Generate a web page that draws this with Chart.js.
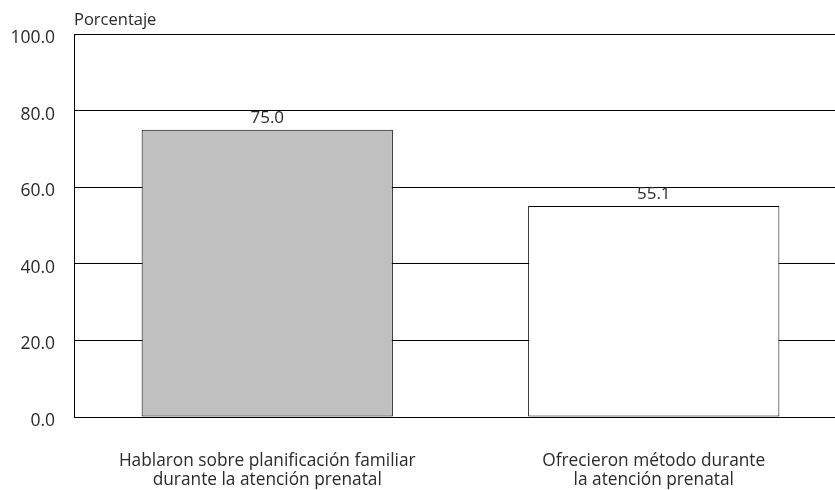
<!DOCTYPE html>
<html>
<head>
<meta charset="utf-8">
<script src="https://cdn.jsdelivr.net/npm/chart.js@4"></script>
<style>
  html, body { margin: 0; padding: 0; background: #fff; overflow: hidden; }
  #wrap { width: 835px; height: 490px; overflow: hidden; }
</style>
</head>
<body>
<div id="wrap"><canvas id="chart" width="850" height="490"></canvas></div>
<script>
// Data
const categories = [
  ['Hablaron sobre planificación familiar', 'durante la atención prenatal'],
  ['Ofrecieron método durante', 'la atención prenatal']
];
const values = [75.0, 55.1];
const barColors = ['#c0c0c0', '#ffffff'];
const yTicks = [0, 20, 40, 60, 80, 100];

const FONT = "'Open Sans', sans-serif";

// Draws y tick labels, value labels and the axis title
const labelsPlugin = {
  id: 'labels',
  afterDraw(chart) {
    const ctx = chart.ctx;
    const y = chart.scales.y;
    ctx.save();
    ctx.fillStyle = '#2a2a2a';
    ctx.font = '17.5px ' + FONT;
    ctx.textAlign = 'right';
    ctx.textBaseline = 'middle';
    yTicks.forEach(v => {
      ctx.fillText(v.toFixed(1), 55, y.getPixelForValue(v) + 4);
    });

    const meta = chart.getDatasetMeta(0);
    ctx.textAlign = 'center';
    ctx.font = '17px ' + FONT;
    meta.data.forEach((bar, i) => {
      ctx.fillText(values[i].toFixed(1), bar.x, bar.y - 12);
    });

    ctx.textAlign = 'left';
    ctx.font = '16.5px ' + FONT;
    ctx.fillText('Porcentaje', 74, 20);
    ctx.restore();
  }
};

new Chart(document.getElementById('chart'), {
  type: 'bar',
  data: {
    labels: categories,
    datasets: [{
      data: values,
      backgroundColor: barColors,
      borderColor: '#000',
      borderWidth: 1,
      borderSkipped: false,
      barPercentage: 0.65,
      categoryPercentage: 1
    }]
  },
  options: {
    responsive: false,
    animation: false,
    layout: { padding: { top: 34, right: 3, left: 0, bottom: 0 } },
    plugins: {
      legend: { display: false },
      tooltip: { enabled: false }
    },
    scales: {
      x: {
        grid: { display: false, drawTicks: false },
        border: { display: true, color: '#000', width: 1 },
        ticks: {
          color: '#2a2a2a',
          font: { family: FONT, size: 17.3, lineHeight: 1.1 },
          padding: 35,
          maxRotation: 0,
          autoSkip: false
        },
        afterFit: scale => { scale.height = 73; }
      },
      y: {
        min: 0,
        max: 100,
        afterBuildTicks: scale => { scale.ticks = yTicks.map(v => ({ value: v })); },
        grid: { color: '#000', lineWidth: 1, drawTicks: false },
        border: { display: true, color: '#000', width: 1 },
        ticks: { display: false },
        afterFit: scale => { scale.width = 74; }
      }
    }
  },
  plugins: [labelsPlugin]
});
</script>
</body>
</html>
